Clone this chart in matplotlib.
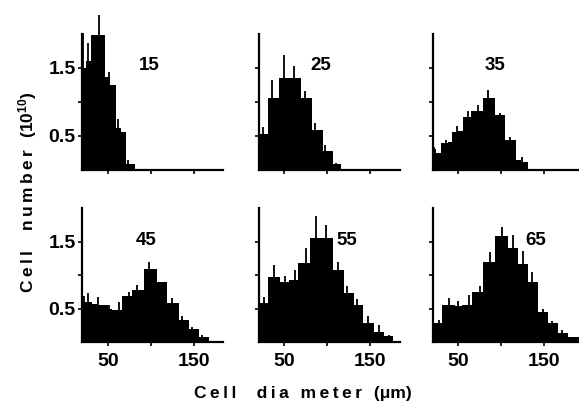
import matplotlib
matplotlib.use("Agg")
import matplotlib.pyplot as plt

plt.rcParams['font.family'] = ['Liberation Sans', 'DejaVu Sans']
plt.rcParams['font.weight'] = 'bold'
plt.rcParams['mathtext.fontset'] = 'custom'
plt.rcParams['mathtext.rm'] = 'Liberation Sans:bold'
plt.rcParams['mathtext.it'] = 'Liberation Sans:bold'
plt.rcParams['mathtext.bf'] = 'Liberation Sans:bold'

# days in culture, one panel each
panel_names = ["15", "25", "35", "45", "55", "65"]

# histogram steps (cell diameter in um) and heights (cell number, 10^10)
edges_15 = [20, 25, 30.8, 46.4, 52.2, 59.9, 65.7, 71.5, 81.3]
heights_15 = [1.50, 1.60, 1.98, 1.37, 1.25, 0.62, 0.55, 0.09]
spike_x_15 = [21.5, 27.4, 40.1, 51.7, 61.9, 73.5]
spike_top_15 = [2.01, 1.87, 2.28, 1.44, 0.74, 0.15]

edges_25 = [20, 30.9, 43.3, 69.6, 82.4, 94.8, 107.2, 116.1]
heights_25 = [0.52, 1.06, 1.35, 1.05, 0.58, 0.27, 0.08]
spike_x_25 = [25, 35.9, 50.2, 60.7, 73.5, 85.9, 97.9, 110.3]
spike_top_25 = [0.63, 1.32, 1.69, 1.52, 1.16, 0.69, 0.37, 0.10]

edges_35 = [20, 24.6, 30.4, 38.2, 43.2, 49.8, 55.6, 65.3, 73.1, 78.9, 92.4, 104.1, 117.6, 122.7, 131.2]
heights_35 = [0.30, 0.24, 0.39, 0.41, 0.55, 0.57, 0.78, 0.87, 0.86, 1.06, 0.81, 0.44, 0.15, 0.12]
spike_x_35 = [21.9, 36.2, 49.0, 61.4, 73.1, 84.7, 98.3, 110.7, 124.6]
spike_top_35 = [0.33, 0.43, 0.65, 0.86, 0.95, 1.17, 0.84, 0.48, 0.18]

edges_45 = [20, 31.6, 37.4, 50.2, 54.9, 66.5, 78.1, 91.7, 107.2, 118.8, 132.4, 144.1, 155.7, 167.3, 182.8]
heights_45 = [0.60, 0.57, 0.56, 0.50, 0.48, 0.68, 0.78, 1.09, 0.89, 0.59, 0.33, 0.20, 0.07, 0.02]
spike_x_45 = [21.9, 27.0, 38.6, 51.8, 63.4, 74.3, 84.4, 98.3, 124.6, 136.2, 147.8, 160.0]
spike_top_45 = [0.68, 0.73, 0.67, 0.55, 0.60, 0.75, 0.85, 1.19, 0.65, 0.39, 0.23, 0.10]

edges_55 = [20, 30.9, 45.2, 54.9, 66.5, 80.1, 107.2, 118.9, 130.5, 142.1, 153.8, 165.4, 177.0, 182.8]
heights_55 = [0.58, 0.97, 0.90, 0.93, 1.18, 1.56, 1.07, 0.73, 0.55, 0.28, 0.15, 0.09, 0.02]
spike_x_55 = [25.8, 38.3, 51.0, 62.7, 75.0, 87.1, 98.3, 111.9, 122.7, 134.4, 147.9, 160.3, 171.2]
spike_top_55 = [0.67, 1.15, 0.98, 1.07, 1.40, 1.88, 1.75, 1.20, 0.84, 0.64, 0.39, 0.25, 0.10]

edges_65 = [20, 31.6, 46.4, 54.1, 65.7, 79.3, 92.9, 108.4, 120, 131.6, 143.3, 154.9, 166.5, 178.1, 190]
heights_65 = [0.28, 0.55, 0.54, 0.56, 0.74, 1.20, 1.59, 1.41, 1.17, 0.90, 0.45, 0.29, 0.14, 0.08]
spike_x_65 = [27.0, 39.4, 50.2, 62.6, 75.4, 87.1, 100.6, 114.2, 125.8, 136.3, 149.1, 159.5, 170.4]
spike_top_65 = [0.33, 0.66, 0.61, 0.70, 0.83, 1.35, 1.72, 1.60, 1.36, 1.05, 0.49, 0.31, 0.18]

panels = [
    (edges_15, heights_15, spike_x_15, spike_top_15),
    (edges_25, heights_25, spike_x_25, spike_top_25),
    (edges_35, heights_35, spike_x_35, spike_top_35),
    (edges_45, heights_45, spike_x_45, spike_top_45),
    (edges_55, heights_55, spike_x_55, spike_top_55),
    (edges_65, heights_65, spike_x_65, spike_top_65),
]

x_ticks = [50, 100, 150]
x_ticklabels = ["50", "", "150"]
y_ticks = [0.5, 1.0, 1.5]
y_ticklabels = ["0.5", "", "1.5"]

# layout in figure fractions
lefts = [0.1416, 0.4465, 0.747]
widths = [0.2435, 0.2435, 0.2522]
xmax = [184, 184, 190]
bottoms = [0.583, 0.1597]
heights_ax = [0.334, 0.329]
label_pos = [(0.48, 0.77), (0.44, 0.77), (0.43, 0.77),
             (0.456, 0.76), (0.626, 0.756), (0.71, 0.76)]


def spaced(s):
    # the scanned labels are typeset with wide letter spacing
    return "\u2009".join(s)


fig = plt.figure(figsize=(5.79, 4.07), dpi=100)

for i, (edges, hts, sx, stop) in enumerate(panels):
    row, col = divmod(i, 3)
    ax = fig.add_axes([lefts[col], bottoms[row], widths[col], heights_ax[row]])
    ax.stairs(hts, edges, fill=True, color="black")
    ax.vlines(sx, 0, stop, color="black", lw=1.3, clip_on=False)
    ax.set_xlim(20, xmax[col])
    ax.set_ylim(0, 2.0)
    for s in ["top", "right"]:
        ax.spines[s].set_visible(False)
    for s in ["left", "bottom"]:
        ax.spines[s].set_linewidth(1.6)
    ax.set_xticks(x_ticks)
    ax.set_yticks(y_ticks)
    ax.tick_params(axis="both", direction="out", length=3, width=1.2,
                   labelsize=14, pad=1.5)
    ax.tick_params(axis="x", pad=5)
    if row == 1:
        ax.set_xticklabels(x_ticklabels, fontweight="bold")
    else:
        ax.set_xticklabels([])
    if col == 0:
        ax.set_yticklabels(y_ticklabels, fontweight="bold")
    else:
        ax.set_yticklabels([])
    lx, ly = label_pos[i]
    ax.text(lx, ly, panel_names[i], transform=ax.transAxes, ha="center",
            va="center", fontsize=13.5, fontweight="bold")

fig.text(0.523, 0.022, spaced("Cell  dia meter (") + "\u03bcm)", ha="center",
         va="baseline", fontsize=12.5, fontweight="bold")
fig.text(0.048, 0.528, spaced("Cell  number (") + "10$^{10}$)", rotation=90,
         ha="center", va="center", fontsize=12.5, fontweight="bold")

fig.savefig("out.png", dpi=100)
